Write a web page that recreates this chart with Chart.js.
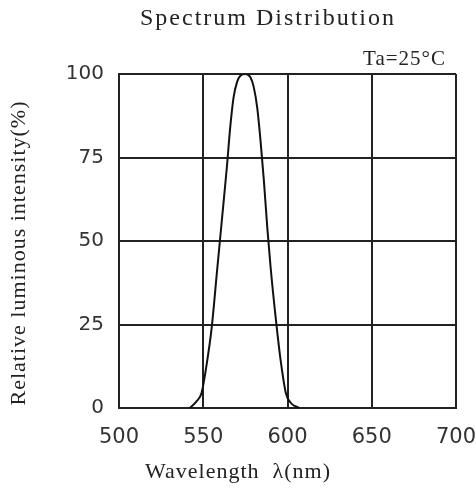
<!DOCTYPE html>
<html>
<head>
    <title>Spectrum Distribution</title>
    <script src="https://cdn.jsdelivr.net/npm/chart.js"></script>
    <style>
        body { margin: 0; background: #fff; }
        #wrap { width: 476px; height: 489px; }
    </style>
</head>
<body>
    <div id="wrap"><canvas id="specChart" width="476" height="489"></canvas></div>

    <script>
    // wavelength (nm) and relative intensity (%)
    const wavelengths = [542, 546, 549, 552, 555, 558, 561, 564, 566, 568, 570, 572, 575, 578, 580, 582, 584, 586, 588, 590, 593, 596, 599, 602, 607];
    const intensity   = [0,   2,   4.5, 13,  24,  40,  56,  72,  84,  93,  97.5, 99.5, 100, 99, 96,  90,  80,  68,  54,  42,  27,  14,  4.5, 1.5, 0];
    const xTicks = [500, 550, 600, 650, 700];
    const yTicks = [0, 25, 50, 75, 100];

    const chartTitle = 'Spectrum Distribution';
    const xTitle = 'Wavelength  \u03bb(nm)';
    const yTitle = 'Relative luminous intensity(%)';
    const note = 'Ta=25\u00b0C';

    const points = wavelengths.map((w, i) => ({x: w, y: intensity[i]}));

    // draws the serif texts (title, axis titles, note)
    const textPlugin = {
        id: 'texts',
        afterDraw(chart) {
            const ctx = chart.ctx;
            ctx.save();
            ctx.fillStyle = '#222';
            ctx.textBaseline = 'middle';

            ctx.letterSpacing = '2px';
            ctx.font = '24px "Liberation Serif"';
            ctx.textAlign = 'center';
            ctx.fillText(chartTitle, 268, 19);

            ctx.letterSpacing = '1px';
            ctx.font = '21px "Liberation Serif"';
            ctx.textAlign = 'right';
            ctx.fillText(note, 446, 59);

            ctx.font = '22px "Liberation Serif"';
            ctx.textAlign = 'left';
            ctx.fillText(xTitle, 145, 472);

            ctx.translate(19, 253);
            ctx.rotate(-Math.PI / 2);
            ctx.textAlign = 'center';
            ctx.fillText(yTitle, 0, 0);
            ctx.restore();
        }
    };

    new Chart(document.getElementById('specChart').getContext('2d'), {
        type: 'line',
        data: {
            datasets: [{
                data: points,
                borderColor: '#111',
                borderWidth: 2,
                pointRadius: 0,
                tension: 0.4,
                cubicInterpolationMode: 'monotone',
                fill: false
            }]
        },
        options: {
            responsive: false,
            animation: false,
            layout: {padding: {top: 74, right: 20, left: 0, bottom: 0}},
            plugins: {legend: {display: false}, tooltip: {enabled: false}},
            scales: {
                x: {
                    type: 'linear',
                    min: 500, max: 700,
                    afterBuildTicks: s => { s.ticks = xTicks.map(v => ({value: v})); },
                    afterFit: s => { s.height = 81; s.paddingLeft = 0; s.paddingRight = 0; },
                    grid: {color: '#222', lineWidth: 2, drawTicks: false},
                    border: {color: '#222', width: 2},
                    ticks: {padding: 17, color: '#333', font: {family: 'DejaVu Sans', size: 21}, maxRotation: 0}
                },
                y: {
                    min: 0, max: 100,
                    afterBuildTicks: s => { s.ticks = yTicks.map(v => ({value: v})); },
                    afterFit: s => { s.width = 119; s.paddingTop = 0; s.paddingBottom = 0; },
                    grid: {color: '#222', lineWidth: 2, drawTicks: false},
                    border: {color: '#222', width: 2},
                    ticks: {padding: 15, color: '#333', font: {family: 'DejaVu Sans', size: 20}}
                }
            }
        },
        plugins: [textPlugin]
    });
    </script>
</body>
</html>
